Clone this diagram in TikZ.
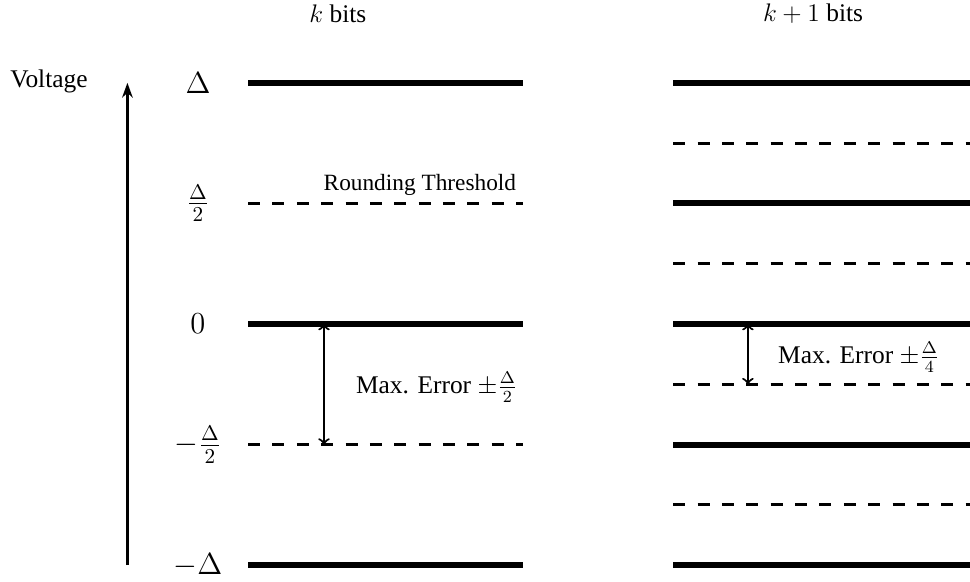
\documentclass[tikz,border=0pt]{standalone}
\usepackage{fontspec}
\setmainfont{Liberation Serif}
\usetikzlibrary{arrows.meta}
\begin{document}
\begin{tikzpicture}[font=\fontsize{12}{14}\selectfont, line join=round,>=stealth,x=1cm,y=1cm,
  level/.style={line width=2.8pt},
  halfstep/.style={line width=1.5pt, dash pattern=on 5.7pt off 5.8pt},
  errarrow/.style={to-to, line width=1pt},
  levlabel/.style={font=\fontsize{14.4}{17}\selectfont, inner sep=1pt}]
\def \xmin{-4.113};
\def \xmax{11.973};
\def \ymin{-4.262};
\def \ymax{5.373};
\useasboundingbox (\xmin,\ymin) rectangle (\xmax,\ymax);
% k bits: levels and their values
\foreach \y/\l in {4/\Delta,0/0,-4/-\Delta}{\draw[level] (0,\y) -- (4.56,\y); \node[levlabel] (val\y) at (-0.83,\y) {$\l$};}
\foreach \y/\l in {2/\frac{\Delta}{2},-2/-\frac{\Delta}{2}}{\draw[halfstep] (0,\y) -- (4.56,\y); \node[levlabel] (val\y) at (-0.83,\y) {$\l$};}
% k+1 bits
\foreach \y in {4,2,0,-2,-4}{\draw[level] (7.05,\y) -- (\xmax,\y);}
\foreach \y in {3,1,-1,-3}{\draw[halfstep] (7.05,\y) -- (\xmax,\y);}
\node (ktitle) at (1.49,5.14) {$k$ bits};
\node (kktitle) at (9.37,5.14) {$k+1$ bits};
\node (thr) at (2.85,2.3) {\fontsize{11}{13}\selectfont Rounding Threshold};
% voltage axis
\coordinate (vbot) at (-2,-4);
\coordinate (vtop) at (-2,4);
\draw[-{Stealth[length=7pt,width=5pt]}, line width=1.4pt] (vbot) -- (vtop);
\node (volt) at (-3.3,4.02) {Voltage};
% max. error
\coordinate (ea) at (1.26,0);
\coordinate (eb) at (1.26,-2);
\draw[errarrow] (ea) -- (eb);
\node[inner sep=1pt] (err) at (3.13,-1.05) {Max. Error $\pm\frac{\Delta}{2}$};
\coordinate (fa) at (8.29,0);
\coordinate (fb) at (8.29,-1);
\draw[errarrow] (fa) -- (fb);
\node[inner sep=1pt] (err2) at (10.13,-0.55) {Max. Error $\pm\frac{\Delta}{4}$};
\end{tikzpicture}
\end{document}
